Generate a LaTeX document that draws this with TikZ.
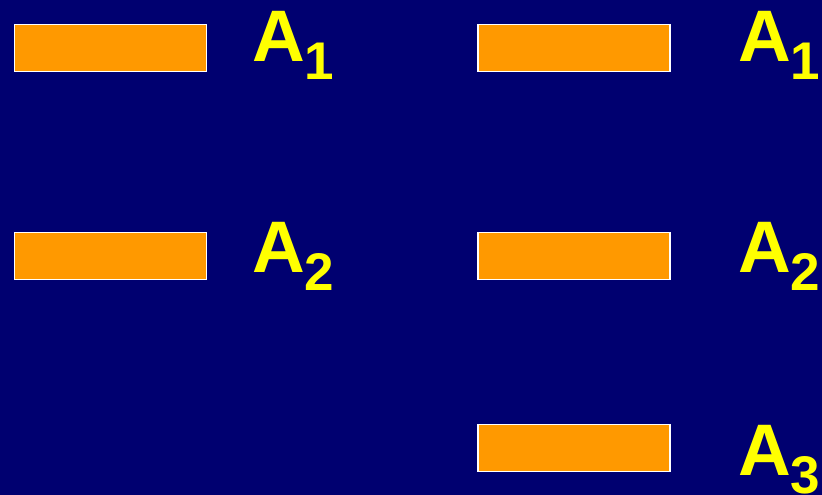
\documentclass[tikz,border=0pt]{standalone}
\usepackage{fontspec}
\setmainfont{Liberation Sans}
\usepackage{tikz}
\usetikzlibrary{positioning}
\definecolor{navybg}{RGB}{0,0,112}
\definecolor{barorange}{RGB}{255,153,0}
\definecolor{lblyellow}{RGB}{255,255,0}
\newcommand{\Asub}[1]{A\raisebox{-18pt}{\fontsize{53}{53}\selectfont #1}}
\tikzset{
  bar/.style ={draw=white, fill=barorange, line width=1.2pt, minimum width=192pt, minimum height=47pt, inner sep=0pt},
  lbl/.style ={anchor=base west, inner sep=0pt, text=lblyellow, font=\fontsize{73}{73}\selectfont\bfseries},
}
\begin{document}
\begin{tikzpicture}[x=1pt, y=-1pt]
  % background
  \fill[navybg] (0,0) rectangle (822,495);
  \useasboundingbox (0,0) rectangle (822,495);

  % LEFT: two bars
  \node[bar] (l1) at (110.5,48)  {};
  \node[bar] (l2) at (110.5,256) {};
  \node[lbl] (la1) at (252,62)  {\Asub{1}};
  \node[lbl] (la2) at (252,272) {\Asub{2}};

  % RIGHT: three bars
  \node[bar] (r1) at (574,48)  {};
  \node[bar] (r2) at (574,256) {};
  \node[bar] (r3) at (574,448) {};
  \node[lbl] (ra1) at (738,62)  {\Asub{1}};
  \node[lbl] (ra2) at (738,272) {\Asub{2}};
  \node[lbl] (ra3) at (738,475) {\Asub{3}};
\end{tikzpicture}
\end{document}
